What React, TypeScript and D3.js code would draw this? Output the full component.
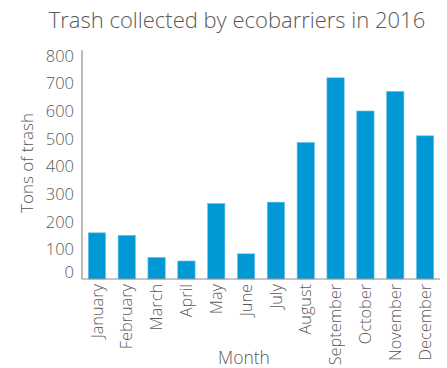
import React from "react";
import * as d3 from "d3";

const months = ["January","February","March","April","May","June","July","August","September","October","November","December"];
const tons = [160, 151, 71, 58, 266, 84, 271, 487, 721, 601, 672, 511];
const yTicks = [0, 100, 200, 300, 400, 500, 600, 700, 800];

const W = 447, H = 368;
const left = 82, right = 440, top = 50, axisY = 279;
const txt = "#595959";
const font = "'Open Sans', 'Noto Sans', sans-serif";

export default function App() {
  const x = d3.scaleBand<string>().domain(months).range([left, right]).paddingInner(0.42).paddingOuter(0.21);
  const y = d3.scaleLinear().domain([0, 800]).range([277, 56]);
  return (
    <svg width={W} height={H} style={{ position: "absolute", left: 0, top: 0 }} fontFamily={font}>
      <text x={237} y={28} textAnchor="middle" fontSize={22} fill={txt} fontWeight={300}>Trash collected by ecobarriers in 2016</text>
      {months.map((m, i) => (
        <rect key={m} x={x(m)} y={y(tons[i])} width={x.bandwidth()} height={axisY - y(tons[i])}
          fill="#0099d6" stroke="#6cc4ea" strokeWidth={0.6} />
      ))}
      <line x1={left} x2={left} y1={top} y2={axisY} stroke="#8c8c8c" strokeWidth={1.2} />
      <line x1={left} x2={right} y1={axisY} y2={axisY} stroke="#8c8c8c" strokeWidth={1.2} />
      {yTicks.map(t => (
        <text key={t} x={74} y={Math.min(y(t), 272)} dy="0.35em" textAnchor="end" fontSize={16.5} fill={txt} fontWeight={300}>{t}</text>
      ))}
      {months.map(m => (
        <text key={m} transform={`translate(${x(m)! + x.bandwidth() / 2},284) rotate(-90)`} dy="0.35em"
          textAnchor="end" fontSize={16.3} fill={txt} fontWeight={300}>{m}</text>
      ))}
      <text x={244} y={364} textAnchor="middle" fontSize={17.5} fill={txt} fontWeight={300}>Month</text>
      <text transform="translate(33,163) rotate(-90)" textAnchor="middle" fontSize={17} fill={txt} fontWeight={300}>Tons of trash</text>
    </svg>
  );
}
